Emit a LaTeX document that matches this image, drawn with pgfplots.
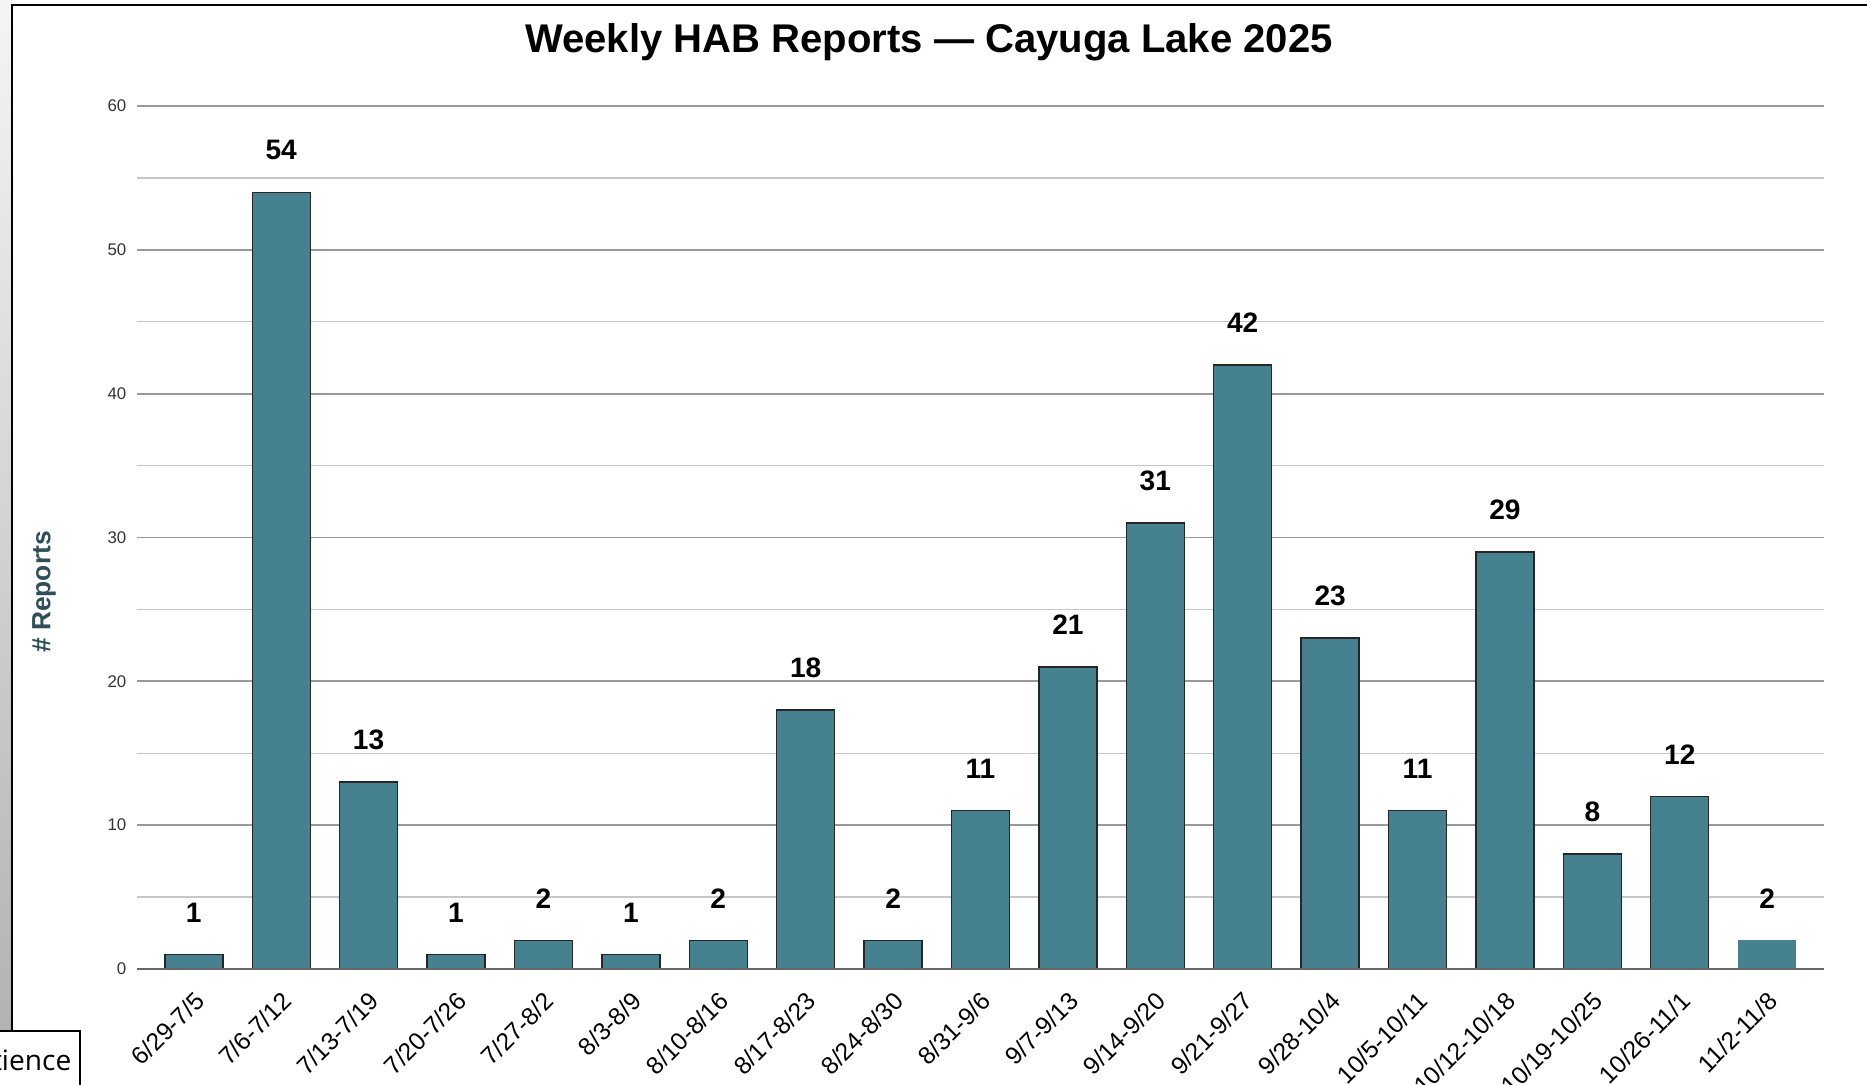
\documentclass[border=0pt]{standalone}
\usepackage{pgfplots}
\pgfplotsset{compat=1.18}
\usepackage{fontspec}
\setmainfont{Liberation Sans}
\newfontfamily\opensans{Open Sans}
\definecolor{barteal}{HTML}{45818E}
\definecolor{labteal}{HTML}{2F4E5A}
\begin{document}
\begin{tikzpicture}
\path[use as bounding box, fill=white] (0,0) rectangle (186.7mm,108.4mm);
% screenshot frame
\shade[top color=gray!8, bottom color=gray!60] (0,5.3mm) rectangle (1.2mm,108.4mm);
\draw[line width=0.25mm] (1.2mm,5.3mm) -- (1.2mm,107.9mm) -- (186.7mm,107.9mm);
\begin{scope}
\clip (0,0) rectangle (8.1mm,5.35mm);
\draw[line width=0.12mm] (-1mm,-1mm) rectangle (8mm,5.3mm);
\node[anchor=base east, inner sep=0pt, font=\opensans\fontsize{8}{10}\selectfont] at (7.2mm,1.4mm) {tience};
\end{scope}
% title
\node[font=\bfseries\fontsize{11.4}{13}\selectfont] at (92.9mm,104.2mm) {Weekly HAB Reports — Cayuga Lake 2025};
% y label
\node[rotate=90, font=\bfseries\fontsize{7.5}{9}\selectfont, text=labteal] at (4.4mm,49.2mm) {\# Reports};
\begin{axis}[
  at={(13.7mm,11.5mm)}, anchor=south west,
  scale only axis, width=168.7mm, height=86.3mm,
  xmin=-0.65, xmax=18.65, ymin=0, ymax=60,
  axis line style={draw=none},
  major tick length=0pt, minor tick length=0pt,
  ytick={0,10,...,60},
  minor ytick={5,15,...,55},
  ymajorgrids, yminorgrids,
  major grid style={draw=black!40, line width=0.17mm},
  minor grid style={draw=black!22, line width=0.13mm},
  /pgf/number format/assume math mode=true,
  yticklabel style={font=\fontsize{4.8}{5}\selectfont, text=black!80, anchor=east, inner sep=0pt, xshift=-1mm},
  xtick={0,...,18},
  xticklabels={6/29-7/5,7/6-7/12,7/13-7/19,7/20-7/26,7/27-8/2,8/3-8/9,8/10-8/16,8/17-8/23,8/24-8/30,8/31-9/6,9/7-9/13,9/14-9/20,9/21-9/27,9/28-10/4,10/5-10/11,10/12-10/18,10/19-10/25,10/26-11/1,11/2-11/8},
  xticklabel style={font=\fontsize{7.0}{8}\selectfont, rotate=45, anchor=north east, inner sep=0pt, xshift=-1.5mm, yshift=-1.4mm},
  ybar, bar width=5.8mm,
  nodes near coords,
  nodes near coords style={font=\bfseries\fontsize{8}{9}\selectfont, text=black, anchor=center, yshift=4.2mm},
]
\addplot[fill=barteal, draw=black!85, line width=0.14mm, bar shift=0pt] coordinates {
(0,1) (1,54) (2,13) (3,1) (4,2) (5,1) (6,2) (7,18) (8,2) (9,11)
(10,21) (11,31) (12,42) (13,23) (14,11) (15,29) (16,8) (17,12)
};
\addplot[fill=barteal, draw=none, bar shift=0pt] coordinates {(18,2)};
\draw[line width=0.18mm, black!60] (axis cs:-0.65,0) -- (axis cs:18.65,0);
\end{axis}
\end{tikzpicture}
\end{document}
